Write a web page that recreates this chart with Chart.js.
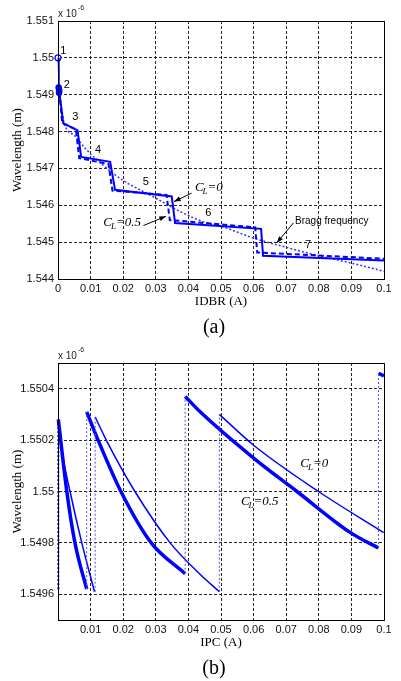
<!DOCTYPE html>
<html>
<head>
<meta charset="utf-8">
<script src="https://cdn.jsdelivr.net/npm/chart.js@4.4.0/dist/chart.umd.min.js"></script>
<style>
  html, body { margin: 0; padding: 0; background: #fff; }
  #wrap { position: relative; width: 401px; height: 681px; }
  canvas { position: absolute; left: 0; }
  #chartA { top: 0; }
  #chartB { top: 340px; }
</style>
</head>
<body>
<div id="wrap">
  <canvas id="chartA" width="401" height="340"></canvas>
  <canvas id="chartB" width="401" height="341"></canvas>
</div>
<script>
// tick values
const idbrTicks = [0, 0.01, 0.02, 0.03, 0.04, 0.05, 0.06, 0.07, 0.08, 0.09, 0.1];
const wlTicksA = [1.544, 1.545, 1.546, 1.547, 1.548, 1.549, 1.55, 1.551];
const ipcTicks = [0.01, 0.02, 0.03, 0.04, 0.05, 0.06, 0.07, 0.08, 0.09, 0.1];
const wlTicksB = [1.5496, 1.5498, 1.55, 1.5502, 1.5504];

// (a) wavelength vs IDBR, x 1e-6 m
const cl0X = [0.0004, 0.0016, 0.0060, 0.0071, 0.0160, 0.0175, 0.0349, 0.0359, 0.0623, 0.0629, 0.1];
const cl0Y = [1.54907, 1.54823, 1.54803, 1.54731, 1.54718, 1.54642, 1.54624, 1.54552, 1.54536, 1.54463, 1.5445];
const cl05X = [0.0004, 0.0013, 0.0055, 0.0065, 0.0155, 0.0167, 0.0333, 0.0343, 0.0605, 0.0611, 0.1];
const cl05Y = [1.54907, 1.54823, 1.54806, 1.54728, 1.54712, 1.5464, 1.54628, 1.5456, 1.5454, 1.54472, 1.54455];
const braggX = [0.0004, 0.002, 0.005, 0.0083, 0.0124, 0.0195, 0.0282, 0.0384, 0.045, 0.05, 0.06, 0.07, 0.08, 0.09, 0.1];
const braggY = [1.54907, 1.5482, 1.5479, 1.54755, 1.5472, 1.5467, 1.54628, 1.54579, 1.54554, 1.54543, 1.54511, 1.54486, 1.54463, 1.54443, 1.54421];
const leadX = [0, 0.0003];
const leadY = [1.55, 1.5492];
const startX = [0];
const startY = [1.55];
const blobX = [0.0002, 0.0003, 0.0004, 0.0003];
const blobY = [1.5492, 1.54915, 1.5491, 1.54905];
const modeNames = ['1', '2', '3', '4', '5', '6', '7'];

// (b) wavelength vs IPC, x 1e-6 m (null = break)
const thickX = [0.0001, 0.0027, 0.0052, 0.0088, null, 0.0088, 0.0123, 0.0193, 0.0286, 0.039, null, 0.039, 0.0436, 0.06, 0.0733, 0.0897, 0.0983, null, 0.0983, 0.1];
const thickY = [1.55028, 1.55, 1.5498, 1.54962, null, 1.55031, 1.5502, 1.55, 1.5498, 1.54968, null, 1.55037, 1.55031, 1.55013, 1.55, 1.54984, 1.54978, null, 1.55046, 1.55045];
const thinX = [0.0002, 0.0012, 0.0037, 0.0073, 0.0112, null, 0.0114, 0.0148, 0.0236, 0.0344, 0.0434, 0.0495, null, 0.0495, 0.06, 0.0799, 0.0999];
const thinY = [1.55028, 1.55016, 1.55, 1.5498, 1.54961, null, 1.55029, 1.5502, 1.55, 1.5498, 1.54968, 1.54961, null, 1.5503, 1.55018, 1.55, 1.54984];
const jumpX = [0.0088, 0.0088, null, 0.0114, 0.0114, null, 0.039, 0.039, null, 0.0495, 0.0495, null, 0.0983, 0.0983];
const jumpY = [1.54962, 1.55031, null, 1.54961, 1.55029, null, 1.54968, 1.55037, null, 1.54961, 1.5503, null, 1.54978, 1.55046];
const edgeX = [0.0001, 0.0001];
const edgeY = [1.54962, 1.55028];

const BLUE = '#0000ff';
const SANS = '"Liberation Sans", Arial, sans-serif';
const NARROW = '"Liberation Sans Narrow", "Arial Narrow", "Liberation Sans", Arial, sans-serif';
const SERIF = '"Liberation Serif", "Times New Roman", serif';

const pts = (xs, ys) => xs.map((x, i) => ({ x: x, y: ys[i] }));

function line(xs, ys, extra) {
  return Object.assign({
    data: pts(xs, ys),
    borderColor: BLUE,
    backgroundColor: BLUE,
    borderWidth: 2,
    pointRadius: 0,
    fill: false,
    spanGaps: false,
    clip: false
  }, extra || {});
}

function drawCL(ctx, px, py, suffix) {
  ctx.textAlign = 'left';
  ctx.textBaseline = 'middle';
  ctx.font = 'italic 13px ' + SERIF;
  ctx.fillText('C', px, py);
  const w = ctx.measureText('C').width;
  ctx.font = 'italic 9px ' + SERIF;
  ctx.fillText('L', px + w - 1, py + 4);
  const w2 = ctx.measureText('L').width;
  ctx.font = 'italic 13px ' + SERIF;
  ctx.fillText(suffix, px + w + w2 - 1, py);
}

function arrow(ctx, x1, y1, x2, y2) {
  const ang = Math.atan2(y2 - y1, x2 - x1);
  ctx.beginPath();
  ctx.moveTo(x1, y1);
  ctx.lineTo(x2, y2);
  ctx.stroke();
  ctx.beginPath();
  ctx.moveTo(x2, y2);
  ctx.lineTo(x2 - 7 * Math.cos(ang - 0.35), y2 - 7 * Math.sin(ang - 0.35));
  ctx.lineTo(x2 - 7 * Math.cos(ang + 0.35), y2 - 7 * Math.sin(ang + 0.35));
  ctx.closePath();
  ctx.fill();
}

const decor = {
  id: 'decor',
  afterDraw(chart, args, o) {
    const { ctx, chartArea: a } = chart;
    const sx = chart.scales.x, sy = chart.scales.y;
    ctx.save();
    ctx.setLineDash([]);
    ctx.strokeStyle = '#000';
    ctx.fillStyle = '#000';
    ctx.lineWidth = 1;
    ctx.strokeRect(a.left + 0.5, a.top + 0.5, a.right - a.left, a.bottom - a.top);

    // exponent
    ctx.textAlign = 'left';
    ctx.textBaseline = 'alphabetic';
    ctx.font = '10px ' + SANS;
    ctx.fillStyle = '#222';
    ctx.fillText('x 10', a.left, a.top - 4);
    const ew = ctx.measureText('x 10').width;
    ctx.font = '7px ' + SANS;
    ctx.fillText('-6', a.left + ew + 1, a.top - 11);

    // axis titles
    ctx.fillStyle = '#000';
    ctx.font = '13px ' + SERIF;
    ctx.textAlign = 'center';
    ctx.textBaseline = 'middle';
    ctx.fillText(o.xTitle, (a.left + a.right) / 2, a.bottom + 23);
    ctx.save();
    ctx.translate(18, (a.top + a.bottom) / 2);
    ctx.rotate(-Math.PI / 2);
    ctx.fillText('Wavelength (m)', 0, 0);
    ctx.restore();
    ctx.font = '20px ' + SERIF;
    ctx.fillText(o.panel, 214, a.bottom + 49);

    // mode numbers
    ctx.font = '11px ' + SANS;
    (o.labels || []).forEach(l => {
      ctx.fillText(l.text, sx.getPixelForValue(l.x), sy.getPixelForValue(l.y));
    });
    ctx.textAlign = 'left';
    ctx.font = '10px ' + SANS;
    (o.texts || []).forEach(t => {
      ctx.fillText(t.text, sx.getPixelForValue(t.x), sy.getPixelForValue(t.y));
    });
    (o.cl || []).forEach(c => drawCL(ctx, sx.getPixelForValue(c.x), sy.getPixelForValue(c.y), c.suffix));
    (o.arrows || []).forEach(r => arrow(ctx,
      sx.getPixelForValue(r.x1), sy.getPixelForValue(r.y1),
      sx.getPixelForValue(r.x2), sy.getPixelForValue(r.y2)));
    ctx.restore();
  }
};

function axes(xTicks, yTicks, yMin, yMax, yDigits) {
  const grid = { color: 'rgba(0,0,0,0.85)', lineWidth: 1, drawTicks: false };
  const border = { display: true, color: '#000', width: 1, dash: [3, 2] };
  const tickFont = { family: NARROW, size: 11 };
  return {
    x: {
      type: 'linear', min: 0, max: 0.1,
      afterBuildTicks: s => { s.ticks = xTicks.map(v => ({ value: v })); },
      afterFit: s => { s.height = 61; },
      grid: grid, border: border,
      ticks: { autoSkip: false, maxRotation: 0, padding: 3, color: '#111', font: tickFont,
        callback: v => String(parseFloat(v.toFixed(2))) }
    },
    y: {
      type: 'linear', min: yMin, max: yMax,
      afterBuildTicks: s => { s.ticks = yTicks.map(v => ({ value: v })); },
      afterFit: s => { s.width = 58; },
      grid: grid, border: border,
      ticks: { autoSkip: false, padding: 4, color: '#111', font: tickFont,
        callback: v => String(parseFloat(v.toFixed(yDigits))) }
    }
  };
}

new Chart(document.getElementById('chartA'), {
  type: 'line',
  data: {
    datasets: [
      line(cl0X, cl0Y, { borderWidth: 2 }),
      line(cl05X, cl05Y, { borderWidth: 2, borderDash: [5, 3] }),
      line(braggX, braggY, { borderWidth: 1.5, borderDash: [2, 2], borderColor: '#3535ff', cubicInterpolationMode: 'monotone' }),
      line(leadX, leadY, { borderWidth: 1 }),
      line(startX, startY, { showLine: false, pointRadius: 3, pointBorderWidth: 1.2, pointBackgroundColor: '#fff', pointBorderColor: BLUE }),
      line(blobX, blobY, { showLine: false, pointRadius: 3.2, pointBorderWidth: 0 })
    ]
  },
  options: {
    responsive: false,
    animation: false,
    layout: { padding: { left: 0, top: 21, right: 17, bottom: 0 } },
    scales: axes(idbrTicks, wlTicksA, 1.544, 1.551, 3),
    plugins: {
      legend: { display: false },
      tooltip: { enabled: false },
      decor: {
        xTitle: 'IDBR (A)',
        panel: '(a)',
        labels: [
          { text: modeNames[0], x: 0.0016, y: 1.5502 },
          { text: modeNames[1], x: 0.0027, y: 1.54927 },
          { text: modeNames[2], x: 0.0053, y: 1.5484 },
          { text: modeNames[3], x: 0.0123, y: 1.54751 },
          { text: modeNames[4], x: 0.0269, y: 1.54664 },
          { text: modeNames[5], x: 0.0461, y: 1.54579 },
          { text: modeNames[6], x: 0.0767, y: 1.54493 }
        ],
        texts: [{ text: 'Bragg frequency', x: 0.0727, y: 1.54556 }],
        cl: [
          { suffix: '=0', x: 0.042, y: 1.54647 },
          { suffix: '=0.5', x: 0.0139, y: 1.54554 }
        ],
        arrows: [
          { x1: 0.041, y1: 1.54633, x2: 0.0356, y2: 1.5461 },
          { x1: 0.0262, y1: 1.54545, x2: 0.0331, y2: 1.5457 },
          { x1: 0.0722, y1: 1.54552, x2: 0.0671, y2: 1.54498 }
        ]
      }
    }
  },
  plugins: [decor]
});

new Chart(document.getElementById('chartB'), {
  type: 'line',
  data: {
    datasets: [
      line(jumpX, jumpY, { borderWidth: 1, borderDash: [2, 2], borderColor: '#5050ff' }),
      line(edgeX, edgeY, { borderWidth: 2, borderDash: [2, 2] }),
      line(thickX, thickY, { borderWidth: 3.5, cubicInterpolationMode: 'monotone' }),
      line(thinX, thinY, { borderWidth: 1.5, cubicInterpolationMode: 'monotone' })
    ]
  },
  options: {
    responsive: false,
    animation: false,
    layout: { padding: { left: 0, top: 23, right: 17, bottom: 0 } },
    scales: axes(ipcTicks, wlTicksB, 1.5495, 1.5505, 4),
    plugins: {
      legend: { display: false },
      tooltip: { enabled: false },
      decor: {
        xTitle: 'IPC (A)',
        panel: '(b)',
        cl: [
          { suffix: '=0', x: 0.0743, y: 1.55011 },
          { suffix: '=0.5', x: 0.0561, y: 1.54996 }
        ]
      }
    }
  },
  plugins: [decor]
});
</script>
</body>
</html>
